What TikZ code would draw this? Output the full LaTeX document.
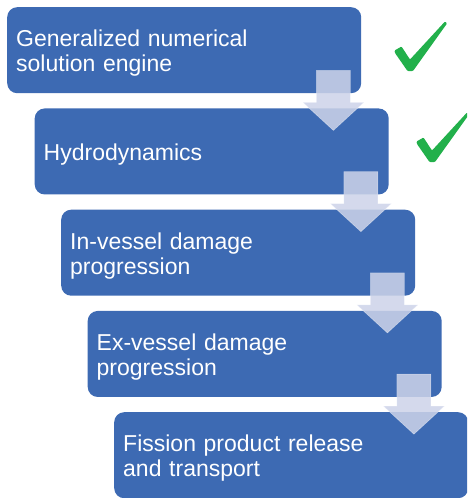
\documentclass[tikz,border=0pt]{standalone}
\usepackage{fontspec}
\setmainfont{Liberation Sans}
\usetikzlibrary{calc}
\definecolor{stepblue}{HTML}{3D6AB3}
\definecolor{flowarrow}{RGB}{205,211,233}
\definecolor{tickgreen}{HTML}{22B04B}
\begin{document}
\begin{tikzpicture}[x=1pt,y=-1pt,
  stepbox/.style={fill=stepblue, rounded corners=10pt, anchor=north west,
    minimum width=354pt, minimum height=86pt, text width=336pt,
    inner xsep=9pt, inner ysep=0pt, align=left, text=white,
    execute at begin node={\rule{0pt}{22.5pt}},
    font=\fontsize{23}{25}\selectfont},
  flow/.style={fill=flowarrow, fill opacity=0.86, draw=white,
    draw opacity=0.4, line width=0.6pt},
  tick/.pic={\fill[tickgreen, rounded corners=0.8pt]
    (-0.5,-1.5) -- (6.5,-5.5) -- (15,7.5) -- (50,-30.5) -- (52,-28.5)
    -- (18,19) -- (12.5,19) -- (0,1) -- cycle;}
]
\useasboundingbox (0,0) rectangle (467,498);
\clip (0,0) rectangle (467,498);

% process steps
\node[stepbox] (s1) at (7,7)          {Generalized numerical\\solution engine};
\node[stepbox] (s2) at (34.5,108.25)  {Hydrodynamics};
\node[stepbox] (s3) at (61,209.5)     {In-vessel damage\\progression};
\node[stepbox] (s4) at (87.5,310.75)  {Ex-vessel damage\\progression};
\node[stepbox] (s5) at (114,412)      {Fission product release\\and transport};

% block arrows from each step down to the next
\foreach \a/\b in {s1/s2, s2/s3, s3/s4, s4/s5}{
  \coordinate (c\a) at ($(\a.south east)+(-28,0)$);
  \begin{scope}[shift={(c\a)}]
    \draw[flow] (-17,-23) -- (17,-23) -- (17,9) -- (30.5,9) -- (0,37)
      -- (-30.5,9) -- (-17,9) -- cycle;
  \end{scope}
}

% completed steps
\pic at (395,52) {tick};
\pic at (417,143) {tick};
\end{tikzpicture}
\end{document}
